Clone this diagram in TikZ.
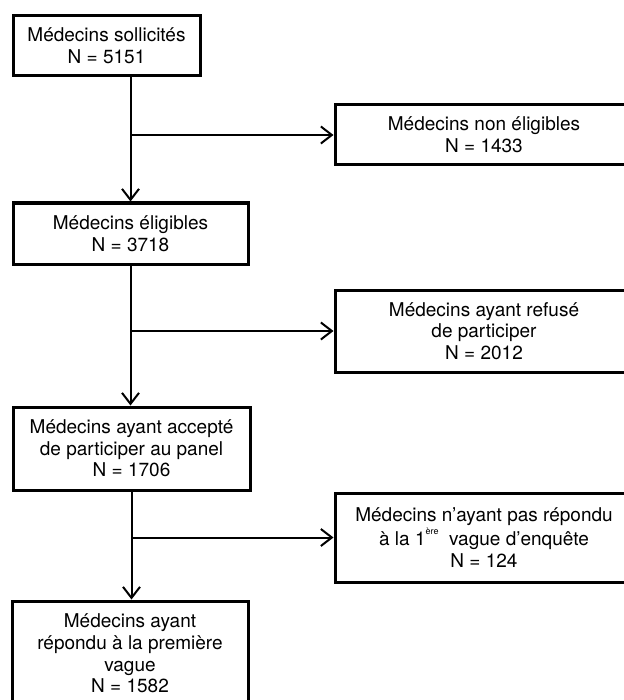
\documentclass[tikz,border=0pt]{standalone}
\usepackage{fontspec}
\setmainfont{TeX Gyre Heros}
\usetikzlibrary{arrows.meta}
\newcommand{\tinysup}[1]{\raisebox{1.15ex}{\fontsize{4.5}{5}\selectfont #1}}
\begin{document}
\begin{tikzpicture}[x=0.5pt,y=-0.5pt,
  box/.style={draw=black, line width=1.5pt, rectangle, inner sep=0pt, align=center,
    font=\fontsize{9.5}{10.8}\selectfont},
  arr/.style={line width=1pt, -{Straight Barb[length=5.5pt,width=8.5pt,line width=1pt]}}]
\useasboundingbox (0,0) rectangle (624,700);
\clip (0,0) rectangle (624,700);
\fill[white] (0,0) rectangle (624,700);
\node[box, minimum width=93.5pt, minimum height=30pt] (A) at (106.5,46) {Médecins sollicités\\N = 5151};
\node[box, minimum width=117.5pt, minimum height=30.5pt] (B) at (130.5,233.5) {Médecins éligibles\\N = 3718};
\node[box, minimum width=118.5pt, minimum height=41.5pt] (C) at (131.5,448.5) {Médecins ayant accepté\\de participer au panel\\N = 1706};
\node[box, minimum width=118pt, minimum height=52.5pt] (D) at (130,653.5) {Médecins ayant\\répondu à la première\\vague\\N = 1582};
\node[box, minimum width=149pt, minimum height=30pt] (R1) at (484,135) {Médecins non éligibles\\N = 1433};
\node[box, minimum width=149pt, minimum height=41pt] (R2) at (484,331) {Médecins ayant refusé\\de participer\\N = 2012};
\node[box, minimum width=149pt, minimum height=44.5pt] (R3) at (484,537.5) {Médecins n'ayant pas répondu\\à la 1\tinysup{ère}\ \ vague d'enquête\\N = 124};
\coordinate (a1) at (A.south -| B.north);
\coordinate (b1) at (B.south);
\coordinate (c1) at (C.south);
\draw[arr] (a1) -- (B.north);
\draw[arr] (a1 |- R1.west) -- (R1.west);
\draw[arr] (b1) -- (b1 |- C.north);
\draw[arr] (b1 |- R2.west) -- (R2.west);
\draw[arr] (c1) -- (c1 |- D.north);
\draw[arr] (c1 |- R3.west) -- (R3.west);
\end{tikzpicture}
\end{document}
